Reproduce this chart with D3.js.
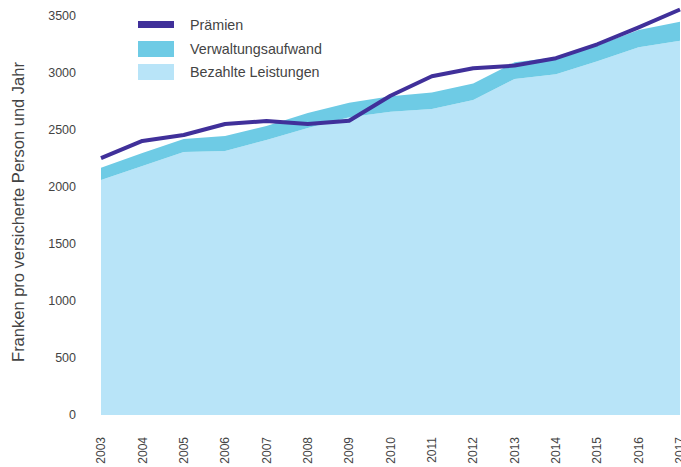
<!DOCTYPE html>
<html>
<head>
<meta charset="utf-8">
<script src="https://cdn.jsdelivr.net/npm/d3@7"></script>
<style>
  body { margin: 0; background: #fff; }
  text { font-family: "Liberation Sans", Arial, sans-serif; fill: #444; }
</style>
</head>
<body>
<svg id="chart"></svg>
<script>
var years = [2003, 2004, 2005, 2006, 2007, 2008, 2009, 2010, 2011, 2012, 2013, 2014, 2015, 2016, 2017];
var praemien = [2254, 2404, 2456, 2553, 2579, 2553, 2581, 2800, 2972, 3042, 3065, 3130, 3252, 3400, 3557];
var leistungen = [2061, 2184, 2307, 2316, 2412, 2518, 2612, 2660, 2684, 2763, 2947, 2988, 3102, 3226, 3283];
var verwaltung = [108, 114, 114, 131, 123, 131, 126, 136, 146, 144, 147, 150, 140, 151, 166];
var yTicks = [0, 500, 1000, 1500, 2000, 2500, 3000, 3500];

var width = 681, height = 467;
var svg = d3.select("#chart").attr("width", width).attr("height", height);

var x = d3.scalePoint().domain(years).range([101, 680]);
var y = d3.scaleLinear().domain([0, 3500]).range([415, 16]);

// stacked areas
var rows = years.map((yr, i) => ({ year: yr, leistungen: leistungen[i], verwaltung: verwaltung[i] }));
var stack = d3.stack().keys(["leistungen", "verwaltung"])(rows);
var colors = { leistungen: "#b8e4f8", verwaltung: "#6ecbe5" };

var area = d3.area()
    .x(d => x(d.data.year))
    .y0(d => y(d[0]))
    .y1(d => y(d[1]));

svg.selectAll("path.layer")
    .data(stack)
    .enter().append("path")
    .attr("class", "layer")
    .attr("d", area)
    .attr("fill", d => colors[d.key]);

// Prämien line
var line = d3.line()
    .x((d, i) => x(years[i]))
    .y(d => y(d));

svg.append("path")
    .datum(praemien)
    .attr("d", line)
    .attr("fill", "none")
    .attr("stroke", "#40309a")
    .attr("stroke-width", 4)
    .attr("stroke-linejoin", "round");

// y axis labels
svg.selectAll("text.ytick")
    .data(yTicks)
    .enter().append("text")
    .attr("class", "ytick")
    .attr("x", 76)
    .attr("y", d => y(d))
    .attr("dy", "0.35em")
    .attr("text-anchor", "end")
    .style("font-size", "12.5px")
    .text(d => d);

// x axis labels (2017 is cut at the edge, same as the original)
svg.selectAll("text.xtick")
    .data(years)
    .enter().append("text")
    .attr("class", "xtick")
    .attr("transform", d => "translate(" + x(d) + ",437) rotate(-90)")
    .attr("dy", "0.35em")
    .attr("text-anchor", "end")
    .style("font-size", "12px")
    .text(d => d);

// y axis title
svg.append("text")
    .attr("transform", "translate(18,212) rotate(-90)")
    .attr("dy", "0.35em")
    .attr("text-anchor", "middle")
    .style("font-size", "16.5px")
    .text("Franken pro versicherte Person und Jahr");

// legend
var legend = [
    { label: "Prämien", color: "#40309a", y: 21, h: 7 },
    { label: "Verwaltungsaufwand", color: "#6ecbe5", y: 41, h: 16 },
    { label: "Bezahlte Leistungen", color: "#b8e4f8", y: 64, h: 16 }
];
var lg = svg.selectAll("g.legend")
    .data(legend)
    .enter().append("g")
    .attr("class", "legend");
lg.append("rect")
    .attr("x", 138)
    .attr("y", d => d.y)
    .attr("width", 36)
    .attr("height", d => d.h)
    .attr("fill", d => d.color);
lg.append("text")
    .attr("x", 190)
    .attr("y", d => d.y + d.h / 2)
    .attr("dy", "0.35em")
    .style("font-size", "14.3px")
    .text(d => d.label);
</script>
</body>
</html>
